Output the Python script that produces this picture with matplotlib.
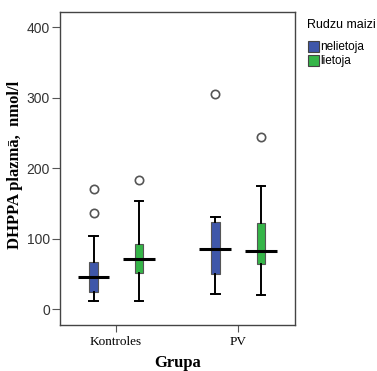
import matplotlib.pyplot as plt

# Dati (nolasīti no attēla)
grupas = ['Kontroles', 'PV']
sastavs = ['nelietoja', 'lietoja']
krasas = ['#3f57a9', '#35b548']

# [whislo, q1, med, q3, whishi]
kontroles_nel = [12, 24, 45, 67, 104]
kontroles_liet = [11, 51, 71, 93, 154]
pv_nel = [21, 50, 86, 123, 131]
pv_liet = [20, 64, 83, 122, 175]
izlec_kontroles_nel = [136, 170]
izlec_kontroles_liet = [184]
izlec_pv_nel = [305]
izlec_pv_liet = [244]

dati = [[kontroles_nel, kontroles_liet], [pv_nel, pv_liet]]
izlec = [[izlec_kontroles_nel, izlec_kontroles_liet], [izlec_pv_nel, izlec_pv_liet]]

fig = plt.figure(figsize=(3.77, 3.71), dpi=100)
ax = fig.add_axes([0.158, 0.125, 0.624, 0.843])

offs = [-0.185, 0.19]
for gi, g in enumerate(grupas):
    for si in range(2):
        v = dati[gi][si]
        pos = gi + 1 + offs[si]
        st = {'whislo': v[0], 'q1': v[1], 'med': v[2], 'q3': v[3], 'whishi': v[4],
              'fliers': izlec[gi][si]}
        ax.bxp([st], positions=[pos], widths=0.07, capwidths=0.07, patch_artist=True,
               boxprops=dict(facecolor=krasas[si], edgecolor='#555555', linewidth=0.8),
               whiskerprops=dict(color='black', linewidth=1.4),
               capprops=dict(color='black', linewidth=1.4),
               medianprops=dict(linewidth=0),
               flierprops=dict(marker='o', markersize=6, markerfacecolor='white',
                               markeredgecolor='#555555', markeredgewidth=1.2))
        ax.hlines(v[2], pos - 0.13, pos + 0.13, color='black', linewidth=2.2, zorder=5)

ax.set_xlim(0.536, 2.468)
ax.set_ylim(-22, 422)
ax.set_yticks([0, 100, 200, 300, 400])
ax.set_xticks([1, 2])
ax.set_xticklabels(grupas, family='Liberation Serif', fontsize=9.5)
for t in ax.get_yticklabels():
    t.set_family('Liberation Sans')
    t.set_fontsize(10)
    t.set_color('#333333')
ax.tick_params(axis='y', length=6, width=0.8, color='#555555', pad=1)
ax.tick_params(axis='x', length=5, width=0.8, color='#555555', pad=3)
for s in ax.spines.values():
    s.set_color('#444444')
    s.set_linewidth(1.0)

fig.text(0.04, 0.555, 'DHPPA plazmā,  nmol/l', family='Liberation Serif', fontweight='bold',
         fontsize=12, rotation=90, ha='center', va='center')
fig.text(0.47, 0.0, 'Grupa', family='Liberation Serif', fontweight='bold', fontsize=12,
         ha='center', va='bottom')

# Leģenda
fig.text(0.815, 0.933, 'Rudzu maizi', family='Liberation Sans', fontsize=9, va='center')
for si, nos in enumerate(sastavs):
    y = 0.874 - si * 0.038
    fig.patches.append(plt.Rectangle((0.818, y - 0.015), 0.027, 0.03, transform=fig.transFigure,
                                     facecolor=krasas[si], edgecolor='#444444', linewidth=0.8))
    fig.text(0.849, y, nos, family='Liberation Sans', fontsize=8.5, va='center')

fig.savefig('out.png', dpi=100)
